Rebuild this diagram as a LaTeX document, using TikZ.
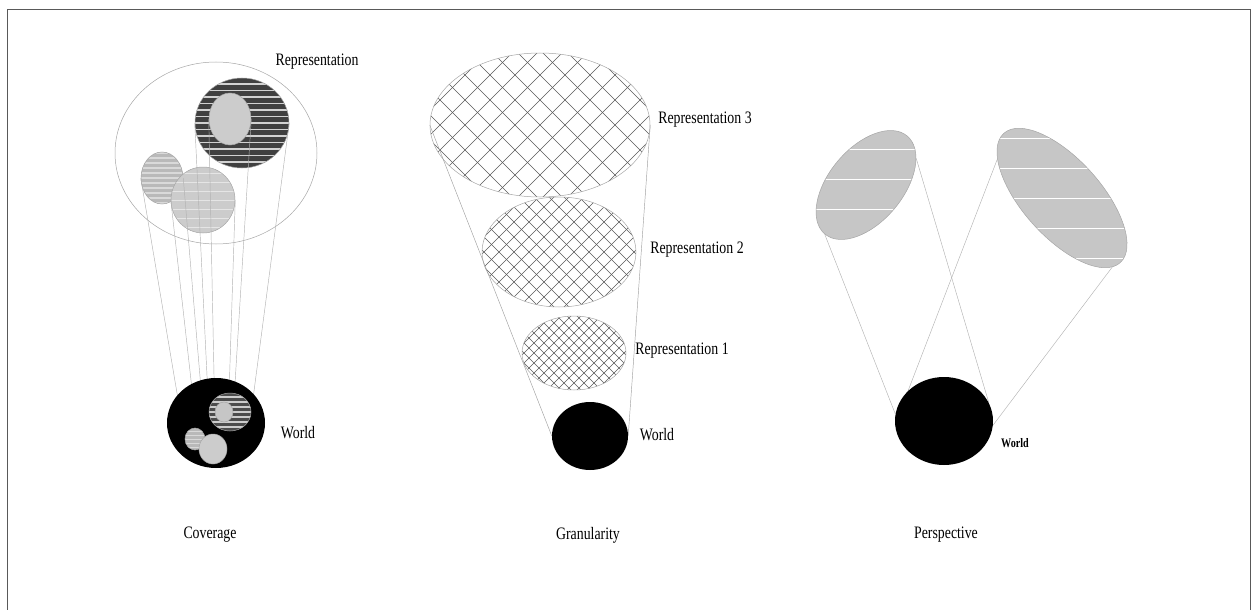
\documentclass[tikz,border=0pt]{standalone}
\usepackage{fontspec}
\setmainfont{Liberation Serif}
\usetikzlibrary{shapes.geometric}
\pgfdeclarelayer{shapes}
\pgfdeclarelayer{wires}
\pgfsetlayers{shapes,wires,main}
\tikzset{
  rep/frame/.style={draw=black!65, line width=1pt},
  rep/size/.style 2 args={minimum width=#1pt, minimum height=#2pt},
  rep/blob/.style={ellipse, draw=gray!70, line width=0.5pt, inner sep=0pt},
  rep/world/.style={ellipse, fill=black, inner sep=0pt},
  rep/wire/.style={draw=gray!60, line width=0.45pt},
  rep/hatchline/.style={draw=black!65, line width=0.65pt},
  % spacing / colour / width, always level with the page
  rep/stripes/.style n args={3}{path picture={
    \pgftransformreset
    \foreach \k in {-30,...,30}
      \draw[draw=#2, line width=#3] ([xshift=-220, yshift=\k*#1]path picture bounding box.center) -- ([xshift=220, yshift=\k*#1]path picture bounding box.center);
  }},
  rep/hatch/.style={path picture={
    \foreach \k in {-12,...,12} {
      \draw[rep/hatchline] ([xshift=\k*#1-150, yshift=-150]path picture bounding box.center) -- ++(300pt,300pt);
      \draw[rep/hatchline] ([xshift=\k*#1-150, yshift=150]path picture bounding box.center) -- ++(300pt,-300pt);
    }
  }},
  rep/label/.style={font=\fontsize{17.5}{20}\selectfont, xscale=0.79, inner sep=0pt},
  rep/smalllabel/.style={font=\bfseries\fontsize{13}{15}\selectfont, xscale=0.78, inner sep=0pt}
}

\begin{document}
\begin{tikzpicture}[x=1pt, y=-1pt]
  \useasboundingbox (0,0) rectangle (1256,610);
  \draw[rep/frame] (7,610) -- (7,10) -- (1250,10) -- (1250,610);

  % coverage
  \begin{pgfonlayer}{shapes}
    \node[rep/blob, rep/size={202}{182}] (cover) at (216,153) {};
    \node[rep/blob, rep/size={94}{90}, fill=black!75, rep/stripes={6.5}{gray!35}{1.6pt}] (dark) at (242,123) {};
    \node[rep/blob, rep/size={42}{52}, fill=gray!40] (inner) at (230,119) {};
    \node[rep/blob, rep/size={42}{52}, fill=gray!55, rep/stripes={5}{gray!30}{1.2pt}] (small) at (162,178) {};
    \node[rep/blob, rep/size={64}{66}, fill=gray!40, rep/stripes={9}{gray!20}{0.6pt}] (light) at (203,200) {};
  \end{pgfonlayer}
  \node[rep/world, rep/size={98}{90}] (w1) at (216,423) {};
  \node[rep/blob, rep/size={42}{38}, fill=black!70, rep/stripes={5}{gray!40}{1.2pt}] (wdark) at (230,412) {};
  \node[rep/blob, rep/size={18}{20}, fill=gray!45] (winner) at (224,412) {};
  \node[rep/blob, rep/size={20}{22}, fill=gray!55, rep/stripes={4}{gray!30}{0.8pt}] (wsmall) at (195,439) {};
  \node[rep/blob, rep/size={28}{30}, fill=gray!40] (wlight) at (213,449) {};
  \begin{pgfonlayer}{wires}
    \foreach \n in {small,light,dark,inner} {
      \draw[rep/wire] (\n.west) -- (w\n.west);
      \draw[rep/wire] (\n.east) -- (w\n.east);
    }
  \end{pgfonlayer}
  \node[rep/label] at (317,62) {Representation};
  \node[rep/label] at (298,433) {World};
  \node[rep/label] at (210,535) {Coverage};

  % granularity
  \begin{pgfonlayer}{shapes}
    \node[rep/blob, rep/size={220}{144}, rep/hatch=25] (rep3) at (540,125) {};
    \node[rep/blob, rep/size={154}{110}, rep/hatch=15] (rep2) at (559,252) {};
    \node[rep/blob, rep/size={104}{74}, rep/hatch=10] (rep1) at (574,353) {};
  \end{pgfonlayer}
  \node[rep/world, rep/size={76}{68}] (w2) at (590,436) {};
  \begin{pgfonlayer}{wires}
    \draw[rep/wire, draw=gray!75] (rep3.west) -- (w2.west);
    \draw[rep/wire, draw=gray!75] (rep3.east) -- (w2.east);
  \end{pgfonlayer}
  \node[rep/label] at (705,120) {Representation 3};
  \node[rep/label] at (697,250) {Representation 2};
  \node[rep/label] at (682,351) {Representation 1};
  \node[rep/label] at (657,435) {World};
  \node[rep/label] at (588,535) {Granularity};

  % perspective
  \begin{pgfonlayer}{shapes}
    \node[rep/blob, rep/size={128}{74}, rotate=50, fill=gray!45, rep/stripes={30}{white}{0.8pt}] (pleft) at (866,185) {};
    \node[rep/blob, rep/size={174}{78}, rotate=-48, fill=gray!45, rep/stripes={30}{white}{0.8pt}] (pright) at (1062,198) {};
  \end{pgfonlayer}
  \node[rep/world, rep/size={98}{88}] (w3) at (944,421) {};
  \begin{pgfonlayer}{wires}
    \draw[rep/wire] (pleft.west) -- (w3.172);
    \draw[rep/wire] (pleft.-22) -- (w3.22);
    \draw[rep/wire] (pright.197) -- (w3.140);
    \draw[rep/wire] (pright.-6) -- (w3.-5);
  \end{pgfonlayer}
  \node[rep/smalllabel] at (1015,443) {World};
  \node[rep/label] at (946,535) {Perspective};
\end{tikzpicture}
\end{document}
